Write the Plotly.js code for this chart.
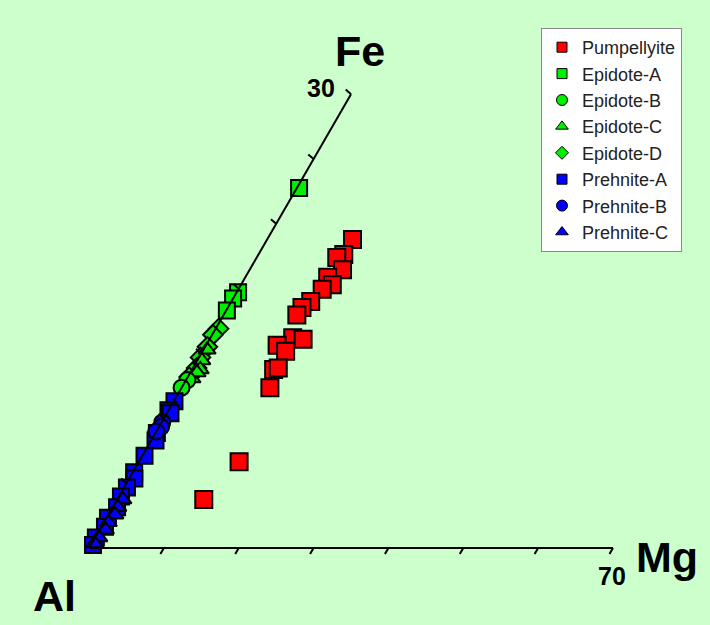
<!DOCTYPE html>
<html>
<head>
<meta charset="utf-8">
<script src="https://cdn.plot.ly/plotly-3.0.1.min.js"></script>
<style>html,body{margin:0;padding:0;background:#ccffcc;}#chart{width:710px;height:625px;}</style>
</head>
<body>
<div id="chart"></div>
<script>
// ---- Data (Mg, Fe) ----
const mgMax = 70;
const feMax = 30;
const mgTicks = [10, 20, 30, 40, 50, 60, 70];
const feTicks = [4.29, 8.57, 12.86, 17.14, 21.43, 25.71, 30];
const mgTickLabel = "70";
const feTickLabel = "30";

const pumpMg = [11.4, 11.4, 10.7, 12.4, 11.0, 12.2, 11.2, 10.6, 9.9, 9.8, 11.0, 12.5, 9.5, 11.1, 10.9, 11.4, 11.8, 13.4, 11.6];
const pumpFe = [20.4, 19.4, 19.2, 18.4, 17.9, 17.4, 17.1, 16.3, 15.9, 15.4, 13.9, 13.8, 13.4, 13.0, 11.8, 11.9, 10.6, 5.7, 3.2];

const epAMg = [0.3, 0.2, 0.0, 0.1];
const epAFe = [23.8, 16.9, 16.5, 15.7];

const epBMg = [0.2, 0.0];
const epBFe = [11.1, 10.6];

const epCMg = [0.5, 0.6, 1.1, 0.7, 0.9];
const epCFe = [13.1, 12.4, 11.8, 11.2, 11.6];

const epDMg = [0.4, 0.1, 0.3, 0.2, 0.5, 0.2];
const epDFe = [14.5, 14.1, 13.3, 12.6, 11.9, 11.3];

const prAMg = [0.1, 0.0, 0.5, 0.2, 0.6, 0.3, 0.2, 0.7, 0.4, 0.3, 0.6, 0.2, 0.5, 0.1, 0.3];
const prAFe = [9.7, 9.1, 8.9, 7.6, 7.1, 6.1, 5.0, 4.6, 4.0, 3.4, 2.7, 2.0, 1.4, 0.7, 0.2];

const prBMg = [0.1, 0.3, 0.0];
const prBFe = [8.3, 8.0, 7.7];

const prCMg = [0.8, 0.7, 0.9, 0.6, 0.8, 0.5, 0.4];
const prCFe = [3.2, 2.7, 2.2, 1.7, 1.2, 0.7, 0.3];

// ---- oblique (60 degree) axes transform ----
const S3 = Math.sqrt(3) / 2;
function tx(mg, fe) { return mg.map((m, i) => m / mgMax + 0.5 * fe[i] / feMax); }
function ty(fe) { return fe.map(f => S3 * f / feMax); }

const RED = '#ff0000', GREEN = '#00ee00', BLUE = '#0000ff';

function series(name, mg, fe, color, symbol, size) {
  return {
    type: 'scatter', mode: 'markers', name: name, showlegend: false,
    x: tx(mg, fe), y: ty(fe), cliponaxis: false,
    marker: { color: color, symbol: symbol, size: size, line: { color: '#000', width: 2 } },
    hoverinfo: 'skip'
  };
}
function legendItem(name, color, symbol, size) {
  return {
    type: 'scatter', mode: 'markers', name: name, x: [null], y: [null],
    marker: { color: color, symbol: symbol, size: size, line: { color: '#000', width: 1 } }
  };
}

const traces = [
  series('Pumpellyite', pumpMg, pumpFe, RED, 'square', 17),
  series('Epidote-A', epAMg, epAFe, GREEN, 'square', 16),
  series('Epidote-D', epDMg, epDFe, GREEN, 'diamond', 15),
  series('Epidote-C', epCMg, epCFe, GREEN, 'triangle-up', 15),
  series('Epidote-B', epBMg, epBFe, GREEN, 'circle', 16),
  series('Prehnite-A', prAMg, prAFe, BLUE, 'square', 16),
  series('Prehnite-B', prBMg, prBFe, BLUE, 'circle', 16),
  series('Prehnite-C', prCMg, prCFe, BLUE, 'triangle-up', 15)
];

// axes lines and ticks (drawn on top of markers)
const tl = 7 / 524;
const axX = [0, 1, null, 0, 0.5];
const axY = [0, 0, null, 0, S3];
const tickX = [], tickY = [];
mgTicks.forEach(m => {
  const x0 = m / mgMax;
  tickX.push(x0, x0 - 0.5 * tl, null);
  tickY.push(0, -S3 * tl, null);
});
feTicks.forEach(f => {
  const v = f / feMax;
  const x0 = 0.5 * v, y0 = S3 * v;
  tickX.push(x0, x0 - 0.75 * tl, null);
  tickY.push(y0, y0 + 0.66 * tl, null);
});
traces.push({ type: 'scatter', mode: 'lines', x: axX, y: axY, showlegend: false, hoverinfo: 'skip', cliponaxis: false, line: { color: '#000', width: 2 } });
traces.push({ type: 'scatter', mode: 'lines', x: tickX, y: tickY, showlegend: false, hoverinfo: 'skip', cliponaxis: false, line: { color: '#000', width: 2 } });

// legend entries
traces.push(
  legendItem('Pumpellyite', RED, 'square', 10),
  legendItem('Epidote-A', GREEN, 'square', 10),
  legendItem('Epidote-B', GREEN, 'circle', 11),
  legendItem('Epidote-C', GREEN, 'triangle-up', 11),
  legendItem('Epidote-D', GREEN, 'diamond', 10),
  legendItem('Prehnite-A', BLUE, 'square', 10),
  legendItem('Prehnite-B', BLUE, 'circle', 11),
  legendItem('Prehnite-C', BLUE, 'triangle-up', 11)
);

const FONT = 'Liberation Sans, Arial, sans-serif';
function lab(text, px, py, size) {
  return { text: text, xref: 'paper', yref: 'paper', x: px / 710, y: 1 - py / 625,
    xanchor: 'center', yanchor: 'middle', showarrow: false,
    font: { family: FONT, size: size, color: '#000', weight: 'bold' } };
}

const layout = {
  width: 710, height: 625,
  margin: { l: 0, r: 0, t: 0, b: 0 },
  paper_bgcolor: '#ccffcc', plot_bgcolor: '#ccffcc',
  xaxis: { range: [-89 / 524, 621 / 524], visible: false, fixedrange: true },
  yaxis: { range: [-77 / 524, 548 / 524], visible: false, fixedrange: true },
  showlegend: true,
  legend: {
    x: 541 / 710, y: 1 - 28 / 625, xanchor: 'left', yanchor: 'top',
    bgcolor: '#ffffff', bordercolor: '#888888', borderwidth: 1,
    font: { family: FONT, size: 18, color: '#222' },
    traceorder: 'normal', itemclick: false
  },
  annotations: [
    lab('Fe', 360, 51, 43),
    lab(feTickLabel, 321, 88, 25),
    lab('Mg', 667, 557, 43),
    lab(mgTickLabel, 612, 576, 25),
    lab('Al', 54, 596, 43)
  ]
};

Plotly.newPlot('chart', traces, layout, { displayModeBar: false, staticPlot: true });
</script>
</body>
</html>
